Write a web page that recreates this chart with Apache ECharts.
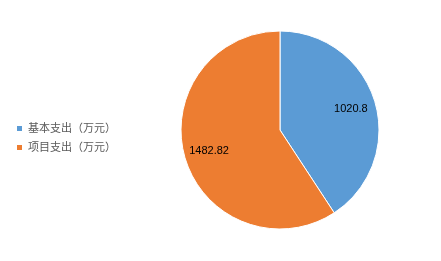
<!DOCTYPE html>
<html lang="zh">
<head>
	<meta charset="UTF-8">
	<title>支出构成</title>
	<script src="https://cdn.jsdelivr.net/npm/echarts@6/dist/echarts.min.js"></script>
</head>
<body style="margin:0">
	<div id="app" style="width:441px;height:261px"></div>
	<script>
		var names = ["基本支出（万元）", "项目支出（万元）"];
		var values = [1020.8, 1482.82];
		var colors = ["#5B9BD5", "#ED7D31"];

		var pieData = names.map(function (n, i) {
			return { name: n, value: values[i], itemStyle: { color: colors[i] } };
		});
		// 标签层：透明扇区，用来把数值放在约 3/4 半径处
		var labelData = names.map(function (n, i) {
			return { name: n, value: values[i] };
		});

		var myChart = echarts.init(document.getElementById('app'));
		var option = {
			animation: false,
			textStyle: { fontFamily: "Liberation Sans, Noto Sans CJK SC, sans-serif" },
			legend: {
				orient: "vertical",
				left: 10,
				top: 118,
				itemWidth: 7,
				itemHeight: 7,
				itemGap: 8,
				icon: "rect",
				textStyle: { fontSize: 11, color: "#595959" },
				data: names
			},
			series: [
				{
					type: "pie",
					center: [280, 130],
					radius: [0, 99],
					startAngle: 90,
					clockwise: true,
					silent: true,
					itemStyle: { borderColor: "#fff", borderWidth: 1 },
					label: { show: false },
					labelLine: { show: false },
					data: pieData
				},
				{
					type: "pie",
					center: [280, 130],
					radius: [0, 142],
					startAngle: 90,
					clockwise: true,
					silent: true,
					legendHoverLink: false,
					itemStyle: { color: "transparent" },
					label: {
						show: true,
						position: "inside",
						formatter: "{c}",
						fontSize: 11,
						color: "#000"
					},
					labelLine: { show: false },
					data: labelData
				}
			]
		};
		myChart.setOption(option);
	</script>
</body>
</html>
